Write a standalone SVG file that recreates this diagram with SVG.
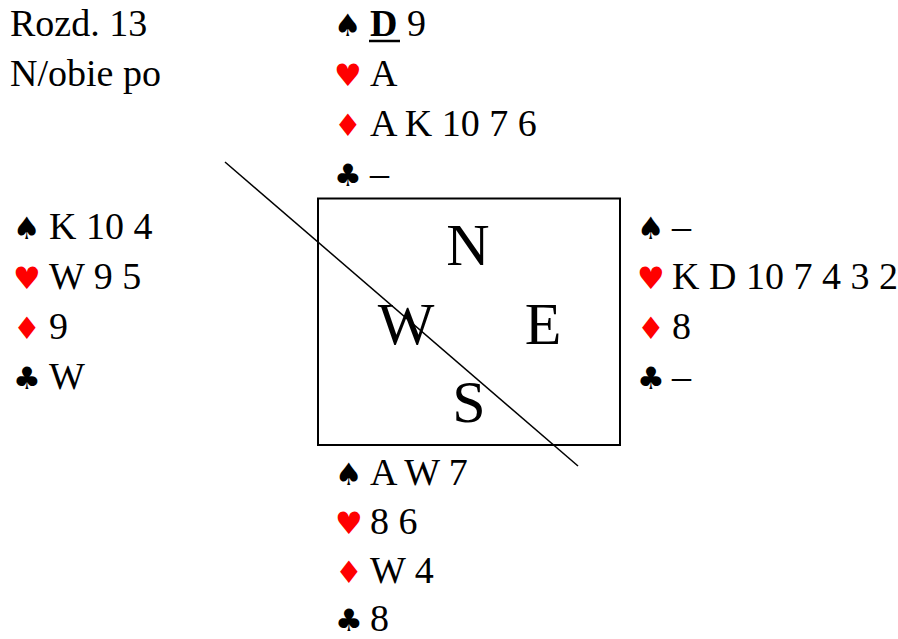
<svg xmlns="http://www.w3.org/2000/svg" width="898" height="639" viewBox="0 0 898 639">
<style>
.t{font-family:"Liberation Serif","Times New Roman",serif;font-size:38px;fill:#000}
.b{font-weight:bold}
.big{font-family:"Liberation Serif","Times New Roman",serif;font-size:60px;fill:#000;text-anchor:middle}
.s{font-family:"DejaVu Sans",sans-serif;font-size:31px;fill:#000}
.r{fill:#ff0000}
</style>
<rect width="898" height="639" fill="#fff"/>
<g id="header">
<text class="t" x="10" y="36">Rozd. 13</text>
<text class="t" x="10" y="86">N/obie po</text>
</g>
<g id="north">
<text class="s" x="334" y="36">♠</text><text class="t" x="370" y="36"><tspan class="b">D</tspan> 9</text>
<line x1="369" y1="41" x2="400" y2="41" stroke="#000" stroke-width="2.5"/>
<text class="s r" x="334" y="86">♥</text><text class="t" x="370" y="86">A</text>
<text class="s r" x="334" y="136">♦</text><text class="t" x="370" y="136">A K 10 7 6</text>
<text class="s" x="334" y="186">♣</text><text class="t" x="370" y="186">–</text>
</g>
<g id="west">
<text class="s" x="13" y="239">♠</text><text class="t" x="49" y="239">K 10 4</text>
<text class="s r" x="13" y="289">♥</text><text class="t" x="49" y="289">W 9 5</text>
<text class="s r" x="13" y="339">♦</text><text class="t" x="49" y="339">9</text>
<text class="s" x="13" y="389">♣</text><text class="t" x="49" y="389">W</text>
</g>
<g id="east">
<text class="s" x="637" y="239">♠</text><text class="t" x="672" y="239">–</text>
<text class="s r" x="637" y="289">♥</text><text class="t" x="672" y="289">K D 10 7 4 3 2</text>
<text class="s r" x="637" y="339">♦</text><text class="t" x="672" y="339">8</text>
<text class="s" x="637" y="389">♣</text><text class="t" x="672" y="389">–</text>
</g>
<g id="south">
<text class="s" x="335" y="485">♠</text><text class="t" x="370" y="485">A W 7</text>
<text class="s r" x="335" y="534">♥</text><text class="t" x="370" y="534">8 6</text>
<text class="s r" x="335" y="583">♦</text><text class="t" x="370" y="583">W 4</text>
<text class="s" x="335" y="631">♣</text><text class="t" x="370" y="631">8</text>
</g>
<g id="table">
<rect x="318" y="198.5" width="302" height="246.5" fill="none" stroke="#000" stroke-width="2"/>
<text class="big" x="468" y="265">N</text>
<text class="big" x="406" y="344">W</text>
<text class="big" x="543" y="344">E</text>
<text class="big" x="469" y="422">S</text>
</g>
<g id="connectors">
<line x1="225" y1="162" x2="578" y2="466" stroke="#000" stroke-width="1.5"/>
</g>
</svg>
